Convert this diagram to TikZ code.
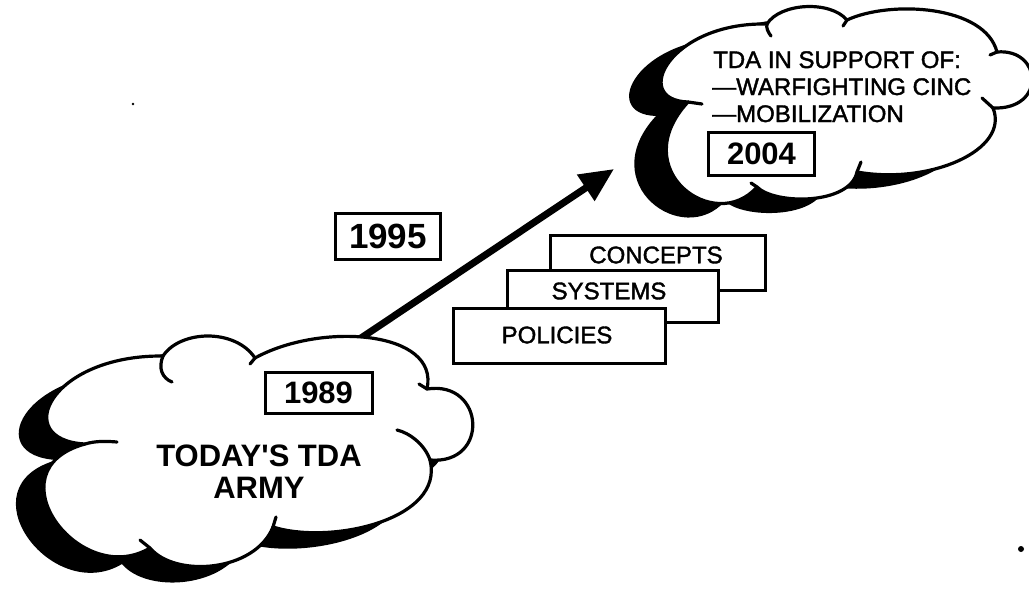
\documentclass[tikz,border=0pt]{standalone}
\usepackage{fontspec}
\setmainfont{Liberation Sans}
\newfontfamily\medfont{Liberation Sans}[FakeBold=1.6]
\usetikzlibrary{arrows.meta}
\def\cloudA{(85,444) .. controls (10,440) and (50,355) .. (163,356)
  .. controls (180,330) and (235,328) .. (255,358)
  .. controls (320,322) and (440,330) .. (427,389)
  .. controls (485,380) and (490,465) .. (430,460)
  .. controls (445,520) and (330,545) .. (273,527)
  .. controls (255,572) and (175,578) .. (150,548)
  .. controls (80,590) and (-10,470) .. (85,444) -- cycle}
\def\cloudB{(688,102) .. controls (630,100) and (670,22) .. (767,24)
  .. controls (780,3) and (830,0) .. (847,20)
  .. controls (890,0) and (985,5) .. (997,52)
  .. controls (1042,48) and (1047,110) .. (993,108)
  .. controls (1010,150) and (930,185) .. (857,172)
  .. controls (850,205) and (775,205) .. (757,187)
  .. controls (715,235) and (625,170) .. (688,102) -- cycle}
\begin{document}
\begin{tikzpicture}[x=1pt,y=-1pt,
  outline/.style={line width=3.2pt, line join=round, line cap=round},
  yearbox/.style={draw, line width=3pt, fill=white, inner sep=0pt},
  stackbox/.style={draw, line width=3pt, fill=white, inner sep=0pt},
  bigbold/.style={inner sep=0pt, font=\fontsize{31}{34}\selectfont\bfseries},
  lbl/.style={inner sep=0pt, font=\medfont\fontsize{24}{27}\selectfont}]
\useasboundingbox (0,0) rectangle (1029,592);
\fill[white] (0,0) rectangle (1029,592);

% arrow
\coordinate (arrowstart) at (355,342);
\coordinate (arrowtip) at (614,169);
\draw[line width=7pt, -{Triangle[length=34pt,width=30pt]}] (arrowstart) -- (arrowtip);

% cloud 1 (today)
\fill[black, shift={(-28,16)}] \cloudA;
\filldraw[fill=white, draw=black, outline] \cloudA;
\draw[outline] (85,444) .. controls (95,441) and (105,441) .. (117,442);
\draw[outline] (163,356) .. controls (158,368) and (162,378) .. (172,382);
\draw[outline] (255,358) -- (250,364);
\draw[outline] (427,389) -- (419,384);
\draw[outline] (430,460) .. controls (425,445) and (410,433) .. (397,430);
\draw[outline] (273,527) -- (276,517);
\draw[outline] (150,548) -- (140,540);

% cloud 2 (2004)
\fill[black, shift={(-32,14)}] \cloudB;
\filldraw[fill=white, draw=black, outline] \cloudB;
\draw[outline] (688,102) -- (702,104);
\draw[outline] (767,24) .. controls (766,28) and (768,32) .. (771,36);
\draw[outline] (847,20) -- (843,26);
\draw[outline] (997,52) -- (990,55);
\draw[outline] (993,108) -- (982,98);
\draw[outline] (857,172) -- (861,162);
\draw[outline] (757,187) -- (751,183);

% year boxes
\node[yearbox, minimum width=105pt, minimum height=46pt,
  font=\fontsize{35}{38}\selectfont\bfseries] (y1995) at (388,236) {1995};
\node[yearbox, minimum width=107pt, minimum height=41pt,
  font=\fontsize{31}{34}\selectfont\bfseries] (y1989) at (318.5,392.5) {1989};
\node[yearbox, minimum width=106pt, minimum height=43pt,
  font=\fontsize{31}{34}\selectfont\bfseries] (y2004) at (761.5,154) {2004};

% cloud texts
\node[bigbold] (today) at (259,456) {TODAY\textquotesingle S TDA};
\node[bigbold] (army) at (259,488) {ARMY};
\node[lbl, anchor=base west] (supp) at (713,68) {TDA IN SUPPORT OF:};
\node[lbl, anchor=base west] (warf) at (712,95) {—WARFIGHTING CINC};
\node[lbl, anchor=base west] (mobi) at (712,122) {—MOBILIZATION};

% stacked boxes
\node[stackbox, minimum width=215pt, minimum height=55pt] (concbox) at (657.5,262.5) {};
\node[lbl] (conc) at (656,255) {CONCEPTS};
\node[stackbox, minimum width=211pt, minimum height=52pt] (sysbox) at (612.5,296) {};
\node[lbl] (sys) at (609,291) {SYSTEMS};
\node[stackbox, minimum width=212pt, minimum height=55pt] (polbox) at (559,335.5) {};
\node[lbl] (pol) at (557,335) {POLICIES};

% stray specks
\fill (1021,549) circle (3);
\fill (133,104) circle (1.3);
\end{tikzpicture}
\end{document}
